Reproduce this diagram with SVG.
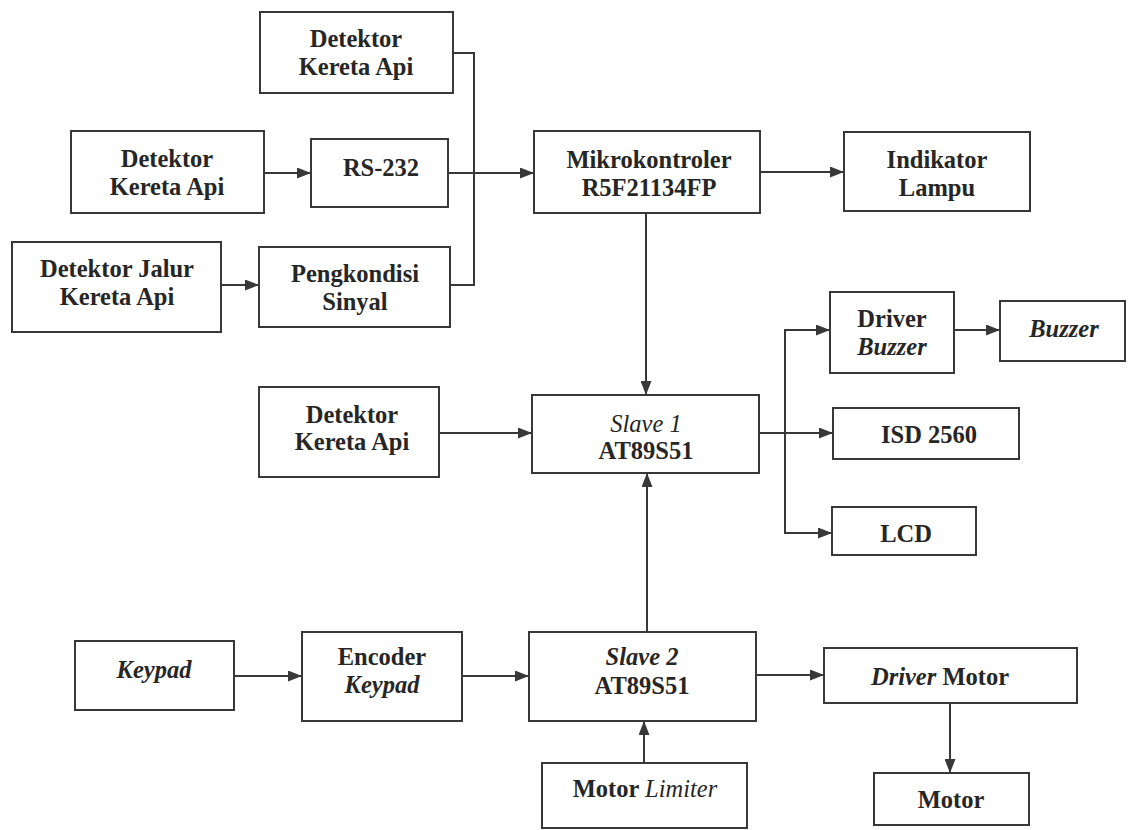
<svg xmlns="http://www.w3.org/2000/svg" width="1128" height="830" viewBox="0 0 1128 830">
  <style>
    .box { fill: #ffffff; stroke: #383838; stroke-width: 2; }
    .wire { fill: none; stroke: #383838; stroke-width: 2; }
    .arrow { fill: none; stroke: #383838; stroke-width: 2; marker-end: url(#head); }
    text { font-family: "Liberation Serif", "Times New Roman", serif; font-size: 24.5px; font-weight: bold; fill: #262626; text-anchor: middle; }
    .it { font-style: italic; }
    .itn { font-style: italic; font-weight: normal; }
  </style>
  <defs>
    <marker id="head" viewBox="0 0 14 11" refX="14" refY="5.5" markerWidth="14" markerHeight="11" markerUnits="userSpaceOnUse" orient="auto">
      <path d="M0,0 L14,5.5 L0,11 Z" fill="#383838"/>
    </marker>
  </defs>
  <rect width="1128" height="830" fill="#ffffff"/>

  <!-- connectors -->
  <g id="connectors">
    <polyline class="wire" points="453,53 474,53 474,285 450,285"/>
    <line class="arrow" x1="264" y1="173" x2="311" y2="173"/>
    <line class="arrow" x1="448" y1="173" x2="534" y2="173"/>
    <line class="arrow" x1="221" y1="285" x2="259" y2="285"/>
    <line class="arrow" x1="760" y1="172" x2="844" y2="172"/>
    <line class="arrow" x1="646" y1="213" x2="646" y2="395"/>
    <line class="arrow" x1="439" y1="433" x2="532" y2="433"/>
    <line class="arrow" x1="759" y1="433" x2="833" y2="433"/>
    <line class="wire" x1="785" y1="330" x2="785" y2="533"/>
    <line class="arrow" x1="784" y1="330" x2="830" y2="330"/>
    <line class="arrow" x1="784" y1="533" x2="832" y2="533"/>
    <line class="arrow" x1="954" y1="330" x2="1000" y2="330"/>
    <line class="arrow" x1="647" y1="632" x2="647" y2="473"/>
    <line class="arrow" x1="234" y1="676" x2="302" y2="676"/>
    <line class="arrow" x1="462" y1="676" x2="529" y2="676"/>
    <line class="arrow" x1="756" y1="675" x2="824" y2="675"/>
    <line class="arrow" x1="644" y1="763" x2="644" y2="721"/>
    <line class="arrow" x1="950" y1="703" x2="950" y2="773"/>
  </g>

  <g id="detektor-atas">
    <rect class="box" x="260" y="12" width="193" height="81"/>
    <text x="356" y="47">Detektor</text>
    <text x="356" y="75">Kereta Api</text>
  </g>
  <g id="detektor-rs232">
    <rect class="box" x="71" y="131" width="193" height="82"/>
    <text x="167" y="167">Detektor</text>
    <text x="167" y="195">Kereta Api</text>
  </g>
  <g id="rs232">
    <rect class="box" x="311" y="139" width="137" height="68"/>
    <text x="381" y="176">RS-232</text>
  </g>
  <g id="detektor-jalur">
    <rect class="box" x="12" y="242" width="209" height="90"/>
    <text x="117" y="277">Detektor Jalur</text>
    <text x="117" y="305">Kereta Api</text>
  </g>
  <g id="pengkondisi">
    <rect class="box" x="259" y="247" width="191" height="80"/>
    <text x="355" y="282">Pengkondisi</text>
    <text x="355" y="310">Sinyal</text>
  </g>
  <g id="mikrokontroler">
    <rect class="box" x="534" y="131" width="226" height="82"/>
    <text x="649" y="168">Mikrokontroler</text>
    <text x="649" y="196">R5F21134FP</text>
  </g>
  <g id="indikator">
    <rect class="box" x="844" y="132" width="186" height="79"/>
    <text x="937" y="168">Indikator</text>
    <text x="937" y="196">Lampu</text>
  </g>
  <g id="driver-buzzer">
    <rect class="box" x="830" y="292" width="124" height="81"/>
    <text x="892" y="327">Driver</text>
    <text x="892" y="355" class="it">Buzzer</text>
  </g>
  <g id="buzzer">
    <rect class="box" x="1000" y="301" width="125" height="60"/>
    <text x="1064" y="337" class="it">Buzzer</text>
  </g>
  <g id="detektor-slave1">
    <rect class="box" x="259" y="387" width="180" height="90"/>
    <text x="352" y="423">Detektor</text>
    <text x="352" y="450">Kereta Api</text>
  </g>
  <g id="slave1">
    <rect class="box" x="532" y="395" width="227" height="78"/>
    <text x="646" y="432" class="itn">Slave 1</text>
    <text x="646" y="459">AT89S51</text>
  </g>
  <g id="isd2560">
    <rect class="box" x="833" y="408" width="186" height="51"/>
    <text x="929" y="443">ISD 2560</text>
  </g>
  <g id="lcd">
    <rect class="box" x="832" y="507" width="144" height="48"/>
    <text x="906" y="542">LCD</text>
  </g>
  <g id="keypad">
    <rect class="box" x="75" y="641" width="159" height="69"/>
    <text x="154" y="678" class="it">Keypad</text>
  </g>
  <g id="encoder">
    <rect class="box" x="302" y="632" width="160" height="89"/>
    <text x="382" y="665">Encoder</text>
    <text x="382" y="693" class="it">Keypad</text>
  </g>
  <g id="slave2">
    <rect class="box" x="529" y="632" width="227" height="89"/>
    <text x="642" y="665" class="it">Slave 2</text>
    <text x="642" y="694">AT89S51</text>
  </g>
  <g id="driver-motor">
    <rect class="box" x="824" y="648" width="253" height="55"/>
    <text x="940" y="685"><tspan class="it">Driver</tspan> Motor</text>
  </g>
  <g id="motor-limiter">
    <rect class="box" x="542" y="763" width="205" height="65"/>
    <text x="645" y="797">Motor <tspan class="itn">Limiter</tspan></text>
  </g>
  <g id="motor">
    <rect class="box" x="874" y="773" width="155" height="52"/>
    <text x="951" y="808">Motor</text>
  </g>
</svg>
